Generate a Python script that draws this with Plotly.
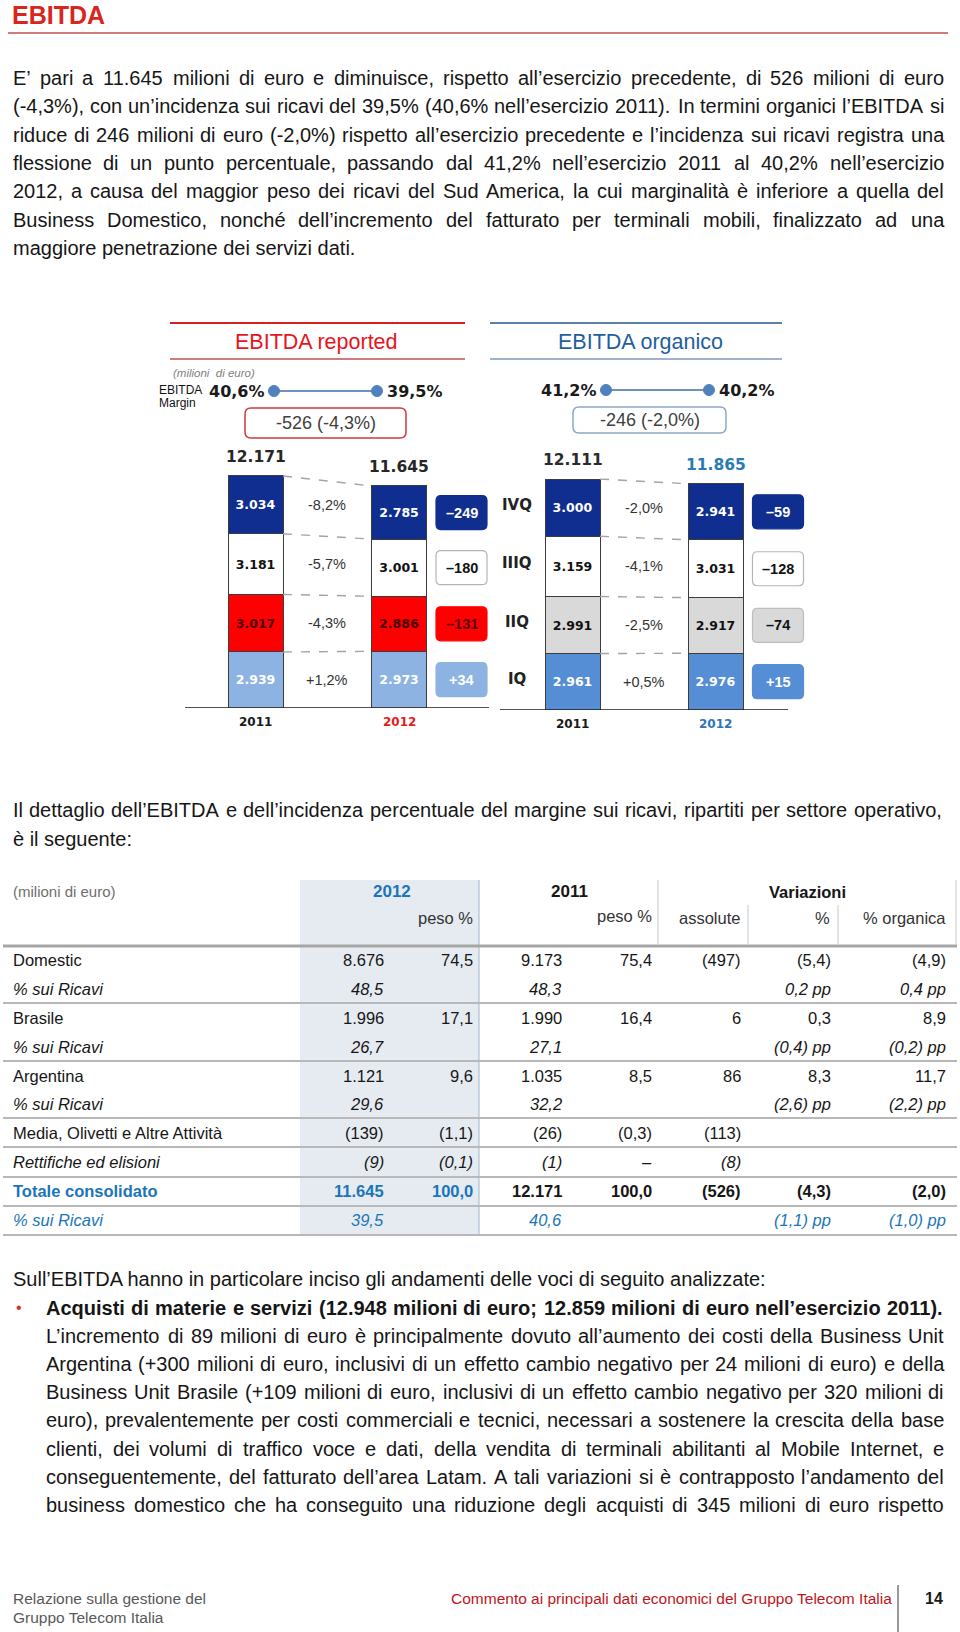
import plotly.graph_objects as go

W, H = 960, 1632

# ---------------- data ----------------
quarters = ["IQ", "IIQ", "IIIQ", "IVQ"]
years = ["2011", "2012"]
reported_2011 = [2939, 3017, 3181, 3034]
reported_2012 = [2973, 2886, 3001, 2785]
reported_var_pct = [1.2, -4.3, -5.7, -8.2]
reported_var_abs = [34, -131, -180, -249]
organic_2011 = [2961, 2991, 3159, 3000]
organic_2012 = [2976, 2917, 3031, 2941]
organic_var_pct = [0.5, -2.5, -4.1, -2.0]
organic_var_abs = [15, -74, -128, -59]
reported_margin = [40.6, 39.5]
organic_margin = [41.2, 40.2]
reported_change = [-526, -4.3]
organic_change = [-246, -2.0]

table_rows = ["Domestic", "% sui Ricavi", "Brasile", "% sui Ricavi", "Argentina", "% sui Ricavi",
              "Media, Olivetti e Altre Attività", "Rettifiche ed elisioni", "Totale consolidato", "% sui Ricavi"]
row_kind = ["val", "pct", "val", "pct", "val", "pct", "val", "val", "val", "pct"]
row_style = ["n", "i", "n", "i", "n", "i", "n", "i", "b", "ib"]
t_2012 = [8676, 48.5, 1996, 26.7, 1121, 29.6, -139, -9, 11645, 39.5]
t_peso_2012 = [74.5, None, 17.1, None, 9.6, None, -1.1, -0.1, 100.0, None]
t_2011 = [9173, 48.3, 1990, 27.1, 1035, 32.2, -26, -1, 12171, 40.6]
t_peso_2011 = [75.4, None, 16.4, None, 8.5, None, -0.3, 0.0, 100.0, None]
t_abs = [-497, None, 6, None, 86, None, -113, -8, -526, None]
t_pct = [-5.4, 0.2, 0.3, -0.4, 8.3, -2.6, None, None, -4.3, -1.1]
t_org = [-4.9, 0.4, 8.9, -0.2, 11.7, -2.2, None, None, -2.0, -1.0]

para1 = [
    "E’ pari a 11.645 milioni di euro e diminuisce, rispetto all’esercizio precedente, di 526 milioni di euro",
    "(-4,3%), con un’incidenza sui ricavi del 39,5% (40,6% nell’esercizio 2011). In termini organici l’EBITDA si",
    "riduce di 246 milioni di euro (-2,0%) rispetto all’esercizio precedente e l’incidenza sui ricavi registra una",
    "flessione di un punto percentuale, passando dal 41,2% nell’esercizio 2011 al 40,2% nell’esercizio",
    "2012, a causa del maggior peso dei ricavi del Sud America, la cui marginalità è inferiore a quella del",
    "Business Domestico, nonché dell’incremento del fatturato per terminali mobili, finalizzato ad una",
    "maggiore penetrazione dei servizi dati.",
]
para2 = [
    "Il dettaglio dell’EBITDA e dell’incidenza percentuale del margine sui ricavi, ripartiti per settore operativo,",
    "è il seguente:",
]
para3 = "Sull’EBITDA hanno in particolare inciso gli andamenti delle voci di seguito analizzate:"
bullet_lines = [
    "Acquisti di materie e servizi (12.948 milioni di euro; 12.859 milioni di euro nell’esercizio 2011).",
    "L’incremento di 89 milioni di euro è principalmente dovuto all’aumento dei costi della Business Unit",
    "Argentina (+300 milioni di euro, inclusivi di un effetto cambio negativo per 24 milioni di euro) e della",
    "Business Unit Brasile (+109 milioni di euro, inclusivi di un effetto cambio negativo per 320 milioni di",
    "euro), prevalentemente per costi commerciali e tecnici, necessari a sostenere la crescita della base",
    "clienti, dei volumi di traffico voce e dati, della vendita di terminali abilitanti al Mobile Internet, e",
    "conseguentemente, del fatturato dell’area Latam. A tali variazioni si è contrapposto l’andamento del",
    "business domestico che ha conseguito una riduzione degli acquisti di 345 milioni di euro rispetto",
]

# ---------------- helpers ----------------
BODY = "Liberation Sans, Arial, sans-serif"
VERD = "DejaVu Sans, Verdana, sans-serif"
TXT = "#161616"

AR = {' ': 278, '!': 278, '"': 355, '%': 889, '&': 667, "'": 191, '(': 333, ')': 333, '+': 584, ',': 278,
      '-': 333, '.': 278, '/': 278, ':': 278, ';': 278, '?': 556, '’': 222, '‘': 222, '–': 556,
      'à': 556, 'è': 556, 'é': 556, 'ì': 278, 'ò': 556, 'ù': 556}
ARB = {' ': 278, '!': 333, '%': 889, "'": 238, '(': 333, ')': 333, '+': 584, ',': 278, '-': 333, '.': 278,
       '/': 278, ':': 333, ';': 333, '’': 278, '–': 556, 'à': 556, 'è': 556, 'é': 556}
for d in "0123456789":
    AR[d] = 556
    ARB[d] = 556
AR.update(zip("ABCDEFGHIJKLMNOPQRSTUVWXYZ", [667, 667, 722, 722, 667, 611, 778, 722, 278, 500, 667, 556, 833,
                                             722, 778, 667, 778, 722, 667, 611, 722, 667, 944, 667, 667, 611]))
AR.update(zip("abcdefghijklmnopqrstuvwxyz", [556, 556, 500, 556, 556, 278, 556, 556, 222, 222, 500, 222, 833,
                                             556, 556, 556, 556, 333, 500, 278, 556, 500, 722, 500, 500, 500]))
ARB.update(zip("ABCDEFGHIJKLMNOPQRSTUVWXYZ", [722, 722, 722, 722, 667, 611, 778, 722, 278, 556, 722, 611, 833,
                                              722, 778, 667, 778, 722, 667, 611, 722, 667, 944, 667, 667, 611]))
ARB.update(zip("abcdefghijklmnopqrstuvwxyz", [556, 611, 556, 611, 556, 333, 611, 611, 278, 278, 556, 278, 889,
                                              611, 611, 611, 611, 389, 556, 333, 611, 556, 778, 556, 556, 500]))


def X(px):
    return px / W


def Y(py):
    return 1 - py / H


ann = []
shapes = []


def text(x, y, s, size, color=TXT, family=BODY, anchor="left", bold=False, italic=False, yanchor="middle"):
    if bold:
        s = f"<b>{s}</b>"
    if italic:
        s = f"<i>{s}</i>"
    ann.append(dict(x=X(x), y=Y(y), xref="paper", yref="paper", text=s, showarrow=False,
                    xanchor=anchor, yanchor=yanchor, borderpad=0, borderwidth=0,
                    font=dict(family=family, size=size, color=color)))


def tw(s, size, bold=False):
    tab = ARB if bold else AR
    return sum(tab.get(c, 556) for c in s) * size / 1000.0


def justify(line, x0, x1, y, size, bold=False, color=TXT):
    words = line.split(" ")
    nat = tw(line, size, bold)
    if nat > (x1 - x0):
        size = size * (x1 - x0) / nat * 0.995
    ws = [tw(w, size, bold) for w in words]
    gap = (x1 - x0 - sum(ws)) / (len(words) - 1)
    x = x0
    for w, wd in zip(words, ws):
        text(x, y, w, size, color, bold=bold)
        x += wd + gap


def hline(x0, x1, y, color, width, dash=None):
    shapes.append(dict(type="line", xref="paper", yref="paper", x0=X(x0), x1=X(x1), y0=Y(y), y1=Y(y),
                       line=dict(color=color, width=width, dash=dash) if dash else dict(color=color, width=width)))


def vline(x, y0, y1, color, width):
    shapes.append(dict(type="line", xref="paper", yref="paper", x0=X(x), x1=X(x), y0=Y(y0), y1=Y(y1),
                       line=dict(color=color, width=width)))


def rrect_path(x0, y0, x1, y1, rx, ry):
    return (f"M {x0+rx},{y0} L {x1-rx},{y0} Q {x1},{y0} {x1},{y0+ry} L {x1},{y1-ry} Q {x1},{y1} {x1-rx},{y1} "
            f"L {x0+rx},{y1} Q {x0},{y1} {x0},{y1-ry} L {x0},{y0+ry} Q {x0},{y0} {x0+rx},{y0} Z")


def it_int(v):
    s = f"{abs(int(v)):,}".replace(",", ".")
    return f"({s})" if v < 0 else s


def it_dec(v):
    if v == 0:
        return "–"
    s = f"{abs(v):.1f}".replace(".", ",")
    return f"({s})" if v < 0 else s


def pct_signed(v):
    return ("+" if v >= 0 else "-") + f"{abs(v):.1f}".replace(".", ",") + "%"


# ---------------- page header & paragraph ----------------
text(12, 0.5, "EBITDA", 25, "#d8261c", bold=True, yanchor="top")
hline(8, 948, 33, "#c0504d", 1.5)

BS = 20
for i, line in enumerate(para1):
    y = 78 + i * 28.3
    if i < len(para1) - 1:
        justify(line, 12.5, 944, y, BS)
    else:
        text(12.5, y, line, BS)

# ---------------- charts ----------------
fig = go.Figure()
K = 52.45          # value units per pixel of the chart image
TOP = 300

charts = [
    dict(xa="x", ya="y", v11=reported_2011, v12=reported_2012, pct=reported_var_pct, dab=reported_var_abs,
         colors=["#8db3e2", "#ff0000", "#ffffff", "#0f2e8f"],
         txt=["#ffffff", "#4a0000", "#111111", "#ffffff"],
         bord=["#8db3e2", "#ff0000", "#b5b5b5", "#0f2e8f"],
         boxtxt=["#ffffff", "#5a0000", "#111111", "#ffffff"],
         ax0=185, ax1=489, c0=255.5, c1=399.0, base=708, dom=(150, 500),
         year_col=["#1a1a1a", "#e0201c"], tot_col=["#262626", "#262626"], qlab=False,
         margin=reported_margin, change=reported_change,
         dots=(274, 377, 391), cbox=(245, 408, 406, 438), cbox_col="#d23a3a",
         title="EBITDA reported", title_col="#e8141b", tcx=316, lines=(170, 465), lcol=("#d42020", "#c0504d")),
    dict(xa="x2", ya="y2", v11=organic_2011, v12=organic_2012, pct=organic_var_pct, dab=organic_var_abs,
         colors=["#558ed5", "#d9d9d9", "#ffffff", "#0f2e8f"],
         txt=["#ffffff", "#111111", "#111111", "#ffffff"],
         bord=["#558ed5", "#bdbdbd", "#b5b5b5", "#0f2e8f"],
         boxtxt=["#ffffff", "#111111", "#111111", "#ffffff"],
         ax0=500, ax1=788, c0=572.5, c1=715.5, base=710, dom=(495, 830),
         year_col=["#1a1a1a", "#2e75b6"], tot_col=["#2b2b2b", "#2a7ab8"], qlab=True,
         margin=organic_margin, change=organic_change,
         dots=(606, 709, 390), cbox=(573, 407, 726, 433), cbox_col="#8aa6c8",
         title="EBITDA organico", title_col="#1f5f9f", tcx=640, lines=(490, 782), lcol=("#5b80aa", "#7f9bbb")),
]

layout_axes = {}
for ci, c in enumerate(charts):
    s = c["c1"] - c["c0"]
    xa, ya = c["xa"], c["ya"]
    bw = 55.0 / s
    sfx = "" if ci == 0 else str(ci + 1)
    layout_axes["xaxis" + sfx] = dict(domain=[X(c["dom"][0]), X(c["dom"][1])],
                                      range=[(c["dom"][0] - c["c0"]) / s, (c["dom"][1] - c["c0"]) / s],
                                      visible=False, fixedrange=True, anchor="y" + sfx)
    layout_axes["yaxis" + sfx] = dict(domain=[Y(c["base"]), Y(TOP)], range=[0, (c["base"] - TOP) * K],
                                      visible=False, fixedrange=True, anchor="x" + sfx)
    # stacked bars
    for qi, q in enumerate(quarters):
        vals = [c["v11"][qi], c["v12"][qi]]
        fig.add_trace(go.Bar(x=[0, 1], y=vals, width=bw, xaxis=xa, yaxis=ya, name=q,
                             marker=dict(color=c["colors"][qi], line=dict(color="#3c3c3c", width=1)),
                             text=[it_int(v) for v in vals], textposition="inside", insidetextanchor="middle",
                             textangle=0, constraintext="none",
                             textfont=dict(family=VERD, size=12.5, color=c["txt"][qi], weight="bold"),
                             hoverinfo="skip", showlegend=False))
    # baseline
    shapes.append(dict(type="line", xref=xa, yref=ya, x0=(c["ax0"] - c["c0"]) / s, x1=(c["ax1"] - c["c0"]) / s,
                       y0=0, y1=0, line=dict(color="#1a1a1a", width=1.5)))
    # dashed connectors & labels
    cum11 = 0
    cum12 = 0
    for qi, q in enumerate(quarters):
        v11, v12 = c["v11"][qi], c["v12"][qi]
        mid11 = cum11 + v11 / 2
        mid12 = cum12 + v12 / 2
        cum11 += v11
        cum12 += v12
        fig.add_trace(go.Scatter(x=[bw / 2, 1 - bw / 2], y=[cum11, cum12], mode="lines", xaxis=xa, yaxis=ya,
                                 line=dict(color="#a3a3a3", width=1.4, dash="dash"),
                                 hoverinfo="skip", showlegend=False))
        ann.append(dict(x=0.5, y=mid11, xref=xa, yref=ya, text=pct_signed(c["pct"][qi]), showarrow=False,
                        font=dict(family=BODY, size=14.5, color="#333333")))
        # variation box
        bx0 = 1 + 37.0 / s
        bx1 = bx0 + 51.0 / s
        by0 = mid12 - 17 * K
        by1 = mid12 + 17 * K
        shapes.append(dict(type="path", xref=xa, yref=ya,
                           path=rrect_path(bx0, by0, bx1, by1, 5.0 / s, 5 * K),
                           fillcolor=c["colors"][qi], line=dict(color=c["bord"][qi], width=1.2)))
        d = c["dab"][qi]
        ann.append(dict(x=(bx0 + bx1) / 2, y=mid12, xref=xa, yref=ya,
                        text=f"<b>{'+' if d > 0 else '–'}{abs(d)}</b>", showarrow=False,
                        font=dict(family=BODY, size=14.5, color=c["boxtxt"][qi])))
        if c["qlab"]:
            ann.append(dict(x=(517 - c["c0"]) / s, y=mid11, yshift=3, xref=xa, yref=ya, text=f"<b>{q}</b>",
                            showarrow=False, font=dict(family=VERD, size=15, color="#222222")))
    # totals and years
    tots = [sum(c["v11"]), sum(c["v12"])]
    for yi, yr in enumerate(years):
        ann.append(dict(x=yi, y=tots[yi], yshift=19, xref=xa, yref=ya, text=f"<b>{it_int(tots[yi])}</b>",
                        showarrow=False, font=dict(family=VERD, size=15.5, color=c["tot_col"][yi])))
        ann.append(dict(x=yi, y=0, yshift=-14, xref=xa, yref=ya, text=f"<b>{yr}</b>",
                        showarrow=False, font=dict(family=VERD, size=12, color=c["year_col"][yi])))
    # title band
    hline(c["lines"][0], c["lines"][1], 323, c["lcol"][0], 2)
    hline(c["lines"][0], c["lines"][1], 359, c["lcol"][1], 1.5)
    text(c["tcx"], 342, c["title"], 21.5, c["title_col"], anchor="center")
    # margin line
    dx0, dx1, dy = c["dots"]
    hline(dx0, dx1, dy, "#3f6ca8", 1.5)
    for dxp in (dx0, dx1):
        shapes.append(dict(type="circle", xref="paper", yref="paper", x0=X(dxp - 5.5), x1=X(dxp + 5.5),
                           y0=Y(dy + 5.5), y1=Y(dy - 5.5), fillcolor="#4f81bd", line=dict(color="#4f81bd", width=1)))
    mtxt = [f"{m:.1f}".replace(".", ",") + "%" for m in c["margin"]]
    text(dx0 - 9, dy, mtxt[0], 16, "#1a1a1a", family=VERD, anchor="right", bold=True)
    text(dx1 + 10, dy, mtxt[1], 16, "#1a1a1a", family=VERD, anchor="left", bold=True)
    # change box
    x0b, y0b, x1b, y1b = c["cbox"]
    shapes.append(dict(type="path", xref="paper", yref="paper",
                       path=rrect_path(X(x0b), Y(y1b), X(x1b), Y(y0b), 6 / W, 6 / H),
                       fillcolor="white", line=dict(color=c["cbox_col"], width=1.5)))
    chg = f"{c['change'][0]} ({c['change'][1]:.1f}%)".replace(".", ",")
    text((x0b + x1b) / 2, (y0b + y1b) / 2, chg, 18, "#404040", anchor="center")

text(173, 373, "(milioni  di euro)", 11.5, "#808080", italic=True)
text(159, 390, "EBITDA", 12, "#111111")
text(159, 403, "Margin", 12, "#111111")

# ---------------- second paragraph ----------------
justify(para2[0], 12.5, 942, 810, BS)
text(12.5, 839, para2[1], BS)

# ---------------- table ----------------
TS = 16.5
BLUE = "#1b75b8"
shapes.append(dict(type="rect", xref="paper", yref="paper", x0=X(300), x1=X(479), y0=Y(1235), y1=Y(880),
                   fillcolor="#e6ebf1", line=dict(width=0), layer="below"))
vline(479, 880, 1235, "#9fb4cc", 1)
vline(658, 880, 944, "#c8c8c8", 1)
vline(748, 905, 944, "#c8c8c8", 1)
vline(838, 905, 944, "#c8c8c8", 1)
vline(956, 880, 944, "#c8c8c8", 1)
text(12.5, 892, "(milioni di euro)", 15, "#6e6e6e")
text(392, 892, "2012", 17, BLUE, anchor="center", bold=True)
text(569, 892, "2011", 17, TXT, anchor="center", bold=True)
text(807, 892, "Variazioni", 16.5, TXT, anchor="center", bold=True)
text(473, 918, "peso %", TS, "#333333", anchor="right")
text(652, 916, "peso %", TS, "#333333", anchor="right")
text(709, 918, "assolute", TS, "#333333", anchor="center")
text(830, 918, "%", TS, "#333333", anchor="right")
text(946, 918, "% organica", TS, "#333333", anchor="right")
hline(3, 957, 946, "#a6a6a6", 3)

col_right = [384, 473, 562, 652, 741, 831, 946]
row_y = [960, 989, 1018, 1047, 1076, 1104, 1133, 1162, 1191, 1220]
sep_y = [1003, 1061, 1118, 1147, 1177, 1206, 1235]
for yy in sep_y:
    hline(3, 957, yy, "#b8b8b8", 2)

for r, lab in enumerate(table_rows):
    st = row_style[r]
    y = row_y[r]
    italic = st in ("i", "ib")
    bold = st == "b"
    base_col = BLUE if st == "ib" else TXT
    text(12.5, y, lab, TS, BLUE if st in ("b", "ib") else TXT, bold=bold, italic=italic)
    cells = [t_2012[r], t_peso_2012[r], t_2011[r], t_peso_2011[r], t_abs[r], t_pct[r], t_org[r]]
    for ci_, v in enumerate(cells):
        if v is None:
            continue
        if ci_ in (0, 2):
            s_ = it_int(v) if row_kind[r] == "val" else it_dec(v)
        elif ci_ == 4:
            s_ = it_int(v)
        else:
            s_ = it_dec(v)
            if row_kind[r] == "pct" and ci_ in (5, 6):
                s_ += " pp"
        col = base_col
        if st == "b" and ci_ in (0, 1):
            col = BLUE
        text(col_right[ci_], y, s_, TS, col, anchor="right", bold=bold, italic=italic)

# ---------------- bottom text ----------------
text(12.5, 1279, para3, BS)
text(19, 1307, "•", 16, "#d0342c", anchor="center")
for i, line in enumerate(bullet_lines):
    justify(line, 46, 944, 1308 + i * 28.1, BS, bold=(i == 0))

# ---------------- footer ----------------
text(12.5, 1598, "Relazione sulla gestione del", 15.5, "#595959")
text(12.5, 1617, "Gruppo Telecom Italia", 15.5, "#595959")
text(892, 1598, "Commento ai principali dati economici del Gruppo Telecom Italia", 15.5, "#c0151b", anchor="right")
vline(898, 1585, 1632, "#333333", 1)
text(934, 1598, "14", 16, "#1a1a1a", anchor="center", bold=True)

fig.update_layout(width=W, height=H, margin=dict(l=0, r=0, t=0, b=0), paper_bgcolor="white",
                  plot_bgcolor="rgba(0,0,0,0)", barmode="stack", bargap=0, separators=",.",
                  showlegend=False, hovermode=False, annotations=ann, shapes=shapes, **layout_axes)
fig.write_html("out.html", config={"displayModeBar": False, "staticPlot": True},
               post_script="document.body.style.margin='0px';document.body.style.overflow='hidden';")
